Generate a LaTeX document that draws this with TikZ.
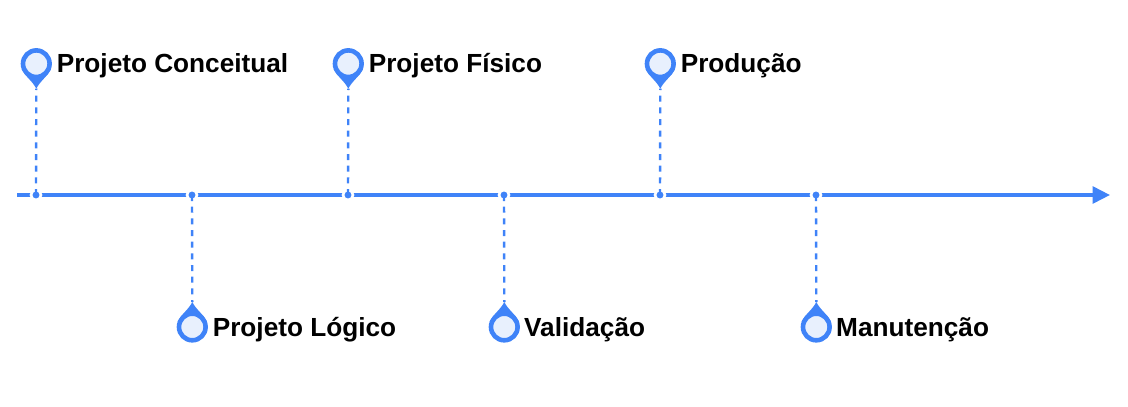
\documentclass[tikz,border=0pt]{standalone}
\usepackage{fontspec}
\setmainfont{Liberation Sans}
\usetikzlibrary{arrows.meta}
\definecolor{tlblue}{HTML}{3F83F8}
\definecolor{tlfill}{HTML}{E8F0FD}
\tikzset{
  x=1pt,y=-1pt,
  axisline/.style={draw=tlblue,line width=3.2pt,-{Triangle[length=17.5pt,width=17pt]}},
  stem/.style={draw=tlblue,line width=2.4pt,dash pattern=on 6pt off 5.67pt},
  stemup/.style={stem,dash phase=4.7pt},
  tickdot/.style={circle,fill=tlblue,draw=white,line width=2.6pt,minimum size=10pt,inner sep=0pt},
  pinhead/.style={circle,draw=tlblue,fill=tlfill,line width=4.6pt,minimum size=26.6pt,inner sep=0pt,outer sep=0pt},
  pinlabel/.style={anchor=base west,inner sep=0pt,font=\bfseries\fontsize{26.2}{26.2}\selectfont,text=black},
}
\newcommand{\pinat}[4]{% name, x, y, direction (1 down, -1 up)
  \coordinate (#1tip) at (#2,#3+25*#4);
  \fill[tlblue] (#2-14.6,#3+5.5*#4) .. controls (#2-11,#3+13*#4) and (#2-4,#3+17*#4) .. (#1tip)
     .. controls (#2+4,#3+17*#4) and (#2+11,#3+13*#4) .. (#2+14.6,#3+5.5*#4) -- cycle;
  \node[pinhead] (#1) at (#2,#3) {};
}
\begin{document}
\begin{tikzpicture}
\useasboundingbox (0,0) rectangle (1128,407);
\coordinate (axisstart) at (17,195);
\coordinate (axisend) at (1110,195);
\draw[axisline] (axisstart) -- (axisend);

\node[tickdot] (t1) at (36,195) {};
\node[tickdot] (t2) at (192,195) {};
\node[tickdot] (t3) at (348,195) {};
\node[tickdot] (t4) at (504,195) {};
\node[tickdot] (t5) at (660,195) {};
\node[tickdot] (t6) at (816,195) {};

\pinat{p1}{36.3}{63.7}{1}
\pinat{p2}{192.3}{327}{-1}
\pinat{p3}{348.3}{63.7}{1}
\pinat{p4}{504.3}{327}{-1}
\pinat{p5}{660.3}{63.7}{1}
\pinat{p6}{816.3}{327}{-1}

\draw[stemup] (p1tip) -- (t1.center);
\draw[stem] (t2.center) -- (p2tip);
\draw[stemup] (p3tip) -- (t3.center);
\draw[stem] (t4.center) -- (p4tip);
\draw[stemup] (p5tip) -- (t5.center);
\draw[stem] (t6.center) -- (p6tip);

\node[pinlabel] (l1) at (56.6,72) {Projeto Conceitual};
\node[pinlabel] (l2) at (212.6,336) {Projeto Lógico};
\node[pinlabel] (l3) at (368.6,72) {Projeto Físico};
\node[pinlabel] (l4) at (524,336) {Validação};
\node[pinlabel] (l5) at (680.6,72) {Produção};
\node[pinlabel] (l6) at (836,336) {Manutenção};
\end{tikzpicture}
\end{document}
